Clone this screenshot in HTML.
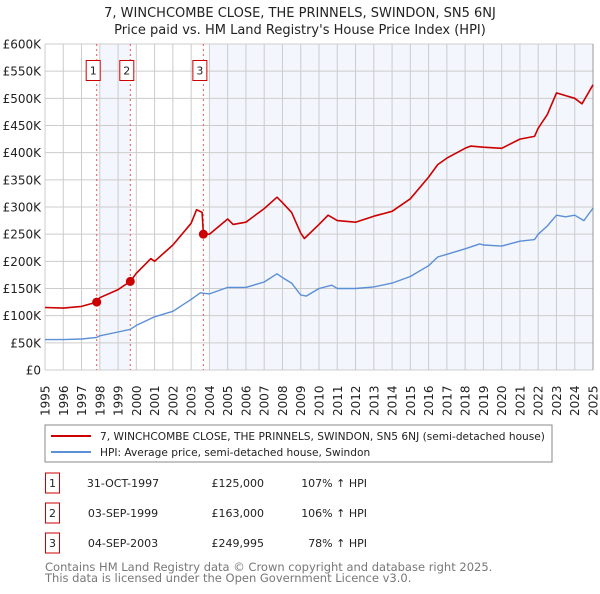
<!DOCTYPE html>
<html><head><meta charset="utf-8">
<style>
body{margin:0;background:#fff;font-family:"DejaVu Sans","Liberation Sans",sans-serif;}
svg text{font-family:"DejaVu Sans","Liberation Sans",sans-serif;}
</style></head>
<body>
<svg id="c" width="600" height="590" xmlns="http://www.w3.org/2000/svg">
<text x="300" y="17" text-anchor="middle" font-size="13" fill="#222">7, WINCHCOMBE CLOSE, THE PRINNELS, SWINDON, SN5 6NJ</text>
<text x="300" y="34" text-anchor="middle" font-size="13" fill="#222">Price paid vs. HM Land Registry's House Price Index (HPI)</text>
<g id="plot"></g>
<rect x="45" y="425" width="507" height="37" fill="#fff" stroke="#888"/>
<line x1="51" y1="436" x2="91" y2="436" stroke="#cc0000" stroke-width="2"/>
<text x="100" y="440" font-size="10.6" fill="#222">7, WINCHCOMBE CLOSE, THE PRINNELS, SWINDON, SN5 6NJ (semi-detached house)</text>
<line x1="51" y1="452" x2="91" y2="452" stroke="#5b8fd6" stroke-width="2"/>
<text x="100" y="456" font-size="10.6" fill="#222">HPI: Average price, semi-detached house, Swindon</text>
<g id="table"></g>
<text x="45" y="571" font-size="11.5" fill="#777">Contains HM Land Registry data © Crown copyright and database right 2025.</text>
<text x="45" y="582" font-size="11.5" fill="#777">This data is licensed under the Open Government Licence v3.0.</text>
</svg>
<script>
const hpiYears=[1995,1996,1997,1997.83,1998,1999,1999.67,2000,2001,2002,2003,2003.5,2004,2005,2006,2007,2007.7,2008,2008.5,2009,2009.3,2010,2010.7,2011,2012,2013,2014,2015,2016,2016.5,2017,2018,2018.8,2019,2020,2021,2021.8,2022,2022.5,2023,2023.5,2024,2024.5,2025];
const hpiValues=[56,56,57,60,63,70,75,82,98,108,130,142,140,152,152,162,177,170,160,138,136,150,156,150,150,153,160,172,192,208,213,223,232,230,228,237,240,250,265,285,282,285,275,298];
const propYears=[1995,1996,1997,1997.83,1998,1999,1999.67,2000,2000.8,2001,2002,2003,2003.3,2003.6,2003.67,2004,2005,2005.3,2006,2007,2007.7,2008,2008.5,2009,2009.2,2010,2010.5,2011,2012,2013,2014,2015,2016,2016.5,2017,2018,2018.3,2019,2020,2021,2021.8,2022,2022.5,2023,2023.5,2024,2024.4,2025];
const propValues=[115,114,117,125,133,148,163,178,205,200,230,270,295,290,250,250,278,268,272,297,318,308,290,252,242,268,285,275,272,283,292,315,355,378,390,408,412,410,408,425,430,445,470,510,505,500,490,525];
const saleYears=[1997.83,1999.67,2003.67];
const saleValues=[125,163,249.995];
const saleLabels=["1","2","3"];
const saleDates=["31-OCT-1997","03-SEP-1999","04-SEP-2003"];
const salePrices=["£125,000","£163,000","£249,995"];
const salePct=["107% ↑ HPI","106% ↑ HPI","78% ↑ HPI"];
const yTicks=[0,50,100,150,200,250,300,350,400,450,500,550,600];
const yTickLabels=["£0","£50K","£100K","£150K","£200K","£250K","£300K","£350K","£400K","£450K","£500K","£550K","£600K"];

const NS="http://www.w3.org/2000/svg";
const X0=45,X1=593,Y0=370,Y1=44;
const xs=y=>X0+(y-1995)/30*(X1-X0);
const ys=v=>Y0-v/600*(Y0-Y1);
const g=document.getElementById('plot');
function mk(tag,attrs,parent){const e=document.createElementNS(NS,tag);for(const k in attrs)e.setAttribute(k,attrs[k]);(parent||g).appendChild(e);return e;}
let e;
e=mk('rect',{x:X0,y:Y1,width:X1-X0,height:Y0-Y1,fill:'#fff'});


e=mk('rect',{x:xs(1998),y:Y1,width:xs(1999.67)-xs(1998),height:Y0-Y1,fill:'#f3f6fd'});


e=mk('rect',{x:xs(2004),y:Y1,width:X1-xs(2004),height:Y0-Y1,fill:'#f3f6fd'});


for(let yr=1995;yr<=2025;yr++){
  e=mk('line',{x1:xs(yr),x2:xs(yr),y1:Y1,y2:Y0,stroke:'#ccc','stroke-width':1});
  
  
  const t=mk('text',{transform:`translate(${xs(yr)+4.5},${Y0+46}) rotate(-90)`,'font-size':12,fill:'#222'});
  t.textContent=yr;
  
  
}
yTicks.forEach((v,i)=>{
  e=mk('line',{x1:X0,x2:X1,y1:ys(v),y2:ys(v),stroke:'#ccc','stroke-width':1});
  
  
  const t=mk('text',{x:X0-4,y:ys(v)+4.5,'text-anchor':'end','font-size':12,fill:'#222'});
  t.textContent=yTickLabels[i];
  
  
});
e=mk('line',{x1:X1,x2:X1,y1:Y1,y2:Y0,stroke:'#999','stroke-width':1});


saleYears.forEach((yr,i)=>{
  e=mk('line',{x1:xs(yr),x2:xs(yr),y1:Y1,y2:Y0,stroke:'#e55','stroke-width':1,'stroke-dasharray':'2,3'});
  
  
});
function line(xsA,vs,col,name,w){
  const d=xsA.map((y,i)=>(i?'L':'M')+xs(y).toFixed(1)+','+ys(vs[i]).toFixed(1)).join('');
  const p=mk('path',{d:d,fill:'none',stroke:col,'stroke-width':w,'stroke-linejoin':'round'});
  
  
}
line(hpiYears,hpiValues,'#5b8fd6','hpi-line',1.4);
line(propYears,propValues,'#cc0000','property-line',1.6);
saleYears.forEach((yr,i)=>{
  e=mk('circle',{cx:xs(yr),cy:ys(saleValues[i]),r:4.5,fill:'#cc0000'});
  
  
  e=mk('rect',{x:xs(yr)-10.5,y:60.5,width:14,height:20,fill:'#fff',stroke:'#cc0000','stroke-width':1});
  
  
  const t=mk('text',{x:xs(yr)-3.5,y:74.5,'text-anchor':'middle','font-size':11,fill:'#222'});
  t.textContent=saleLabels[i];
  
  
});
const tb=document.getElementById('table');
saleLabels.forEach((l,i)=>{
  const cy=483+i*30;
  e=mk('rect',{x:45.5,y:cy-10,width:14,height:20,fill:'#fff',stroke:'#cc0000','stroke-width':1},tb);
  
  
  const cells=[[52.5,'middle',l,'table-row-number'],[123,'middle',saleDates[i],'table-date'],[264,'end',salePrices[i],'table-price'],[367,'end',salePct[i],'table-hpi-change']];
  cells.forEach(c=>{
    const t=mk('text',{x:c[0],y:cy+4,'text-anchor':c[1],'font-size':11,fill:'#222'},tb);
    t.textContent=c[2];
    
    
  });
});
</script>
</body></html>
